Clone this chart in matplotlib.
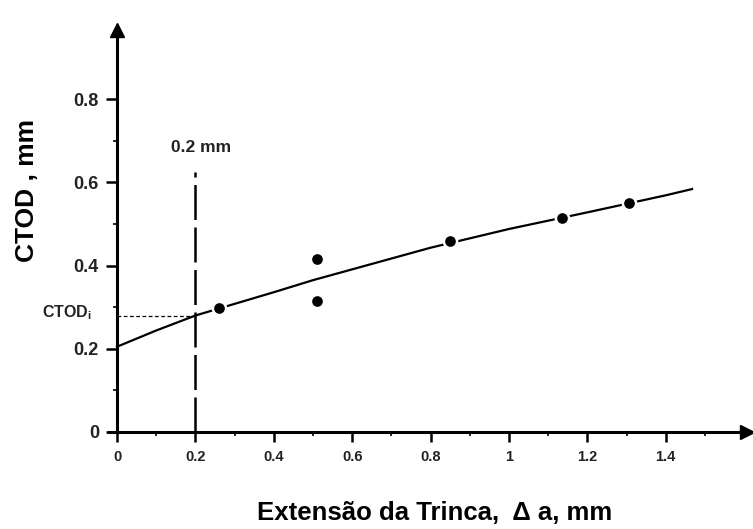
import matplotlib
matplotlib.use("Agg")
import matplotlib.pyplot as plt

plt.rcParams['font.family'] = ['Liberation Sans', 'DejaVu Sans']
plt.rcParams['mathtext.fontset'] = 'custom'
plt.rcParams['mathtext.rm'] = 'Liberation Sans:bold'
plt.rcParams['mathtext.it'] = 'Liberation Sans:bold'
plt.rcParams['mathtext.bf'] = 'Liberation Sans:bold'

# measured points (crack extension, CTOD)
pts_x = [0.26, 0.51, 0.51, 0.85, 1.135, 1.305]
pts_y = [0.298, 0.415, 0.315, 0.460, 0.515, 0.551]

# fitted R-curve
curve_x = [0.0, 0.1, 0.2, 0.3, 0.4, 0.5, 0.6, 0.8, 1.0, 1.2, 1.4, 1.467]
curve_y = [0.205, 0.244, 0.280, 0.308, 0.336, 0.365, 0.391, 0.443, 0.488, 0.528, 0.569, 0.584]

ctod_i = 0.28
da_crit = 0.2
crit_top = 0.625

xticks = [0, 0.2, 0.4, 0.6, 0.8, 1.0, 1.2, 1.4]
xticklabels = ['0', '0.2', '0.4', '0.6', '0.8', '1', '1.2', '1.4']
xminor = [0.1, 0.3, 0.5, 0.7, 0.9, 1.1, 1.3, 1.5]
yticks = [0, 0.2, 0.4, 0.6, 0.8]
yticklabels = ['0', '0.2', '0.4', '0.6', '0.8']
yminor = [0.1, 0.3, 0.5, 0.7]

W, H = 753, 529
fig = plt.figure(figsize=(W / 100, H / 100), dpi=100)
x0, x1 = 117, 747
y0, y1 = 432, 30
ax = fig.add_axes([x0 / W, (H - y0) / H, (x1 - x0) / W, (y0 - y1) / H])
ax.set_xlim(0, (x1 - x0) / 392)
ax.set_ylim(0, (y0 - y1) / 416)

for s in ['top', 'right']:
    ax.spines[s].set_visible(False)
for s in ['left', 'bottom']:
    ax.spines[s].set_linewidth(2.2)
ax.spines['bottom'].set_bounds(-0.02, (x1 - x0) / 392)

# arrows
ax.plot(1, 0, marker='>', color='black', markersize=10, transform=ax.transAxes, clip_on=False)
ax.plot(0, 1, marker='^', color='black', markersize=10, transform=ax.transAxes, clip_on=False)

ax.set_xticks(xticks)
ax.set_xticklabels(xticklabels)
ax.set_xticks(xminor, minor=True)
ax.set_yticks(yticks)
ax.set_yticklabels(yticklabels)
ax.set_yticks(yminor, minor=True)
ax.tick_params(axis='x', which='major', direction='out', length=7, width=1.8, labelsize=10.5, pad=6)
ax.tick_params(axis='x', which='minor', direction='out', length=3, width=1.2)
ax.tick_params(axis='y', which='major', direction='out', length=8, width=1.8, labelsize=13, pad=5)
ax.tick_params(axis='y', which='minor', direction='out', length=3, width=1.2)
for lab in ax.get_xticklabels() + ax.get_yticklabels():
    lab.set_fontweight('bold')
    lab.set_color('#222222')

# curve
ax.plot(curve_x, curve_y, color='black', linewidth=1.6, zorder=3, clip_on=False)
# points
ax.plot(pts_x, pts_y, 'o', color='black', markersize=9.5, markeredgecolor='white',
        markeredgewidth=1.8, zorder=4)

# criteria lines
ax.plot([da_crit, da_crit], [0, crit_top], color='black', linewidth=1.8,
        dashes=(14, 3), zorder=2)
ax.plot([0, da_crit], [ctod_i, ctod_i], color='black', linewidth=0.9,
        dashes=(3, 2), zorder=2)

ax.text(0.215, 0.683, '0.2 mm', ha='center', va='center', fontsize=12.5, fontweight='bold',
        color='#222222')
ax.text(-0.064, 0.286, r'CTOD$_{\mathrm{i}}$', ha='right', va='center', fontsize=11.5,
        fontweight='bold', color='#222222')

fig.text(27 / W, 1 - 191 / H, 'CTOD , mm', rotation=90, ha='center', va='center',
         fontsize=19, fontweight='bold')
fig.text(435 / W, 1 - 513 / H, 'Extensão da Trinca,  Δ a, mm', ha='center', va='center',
         fontsize=18.5, fontweight='bold')

fig.savefig('out.png', dpi=100)
